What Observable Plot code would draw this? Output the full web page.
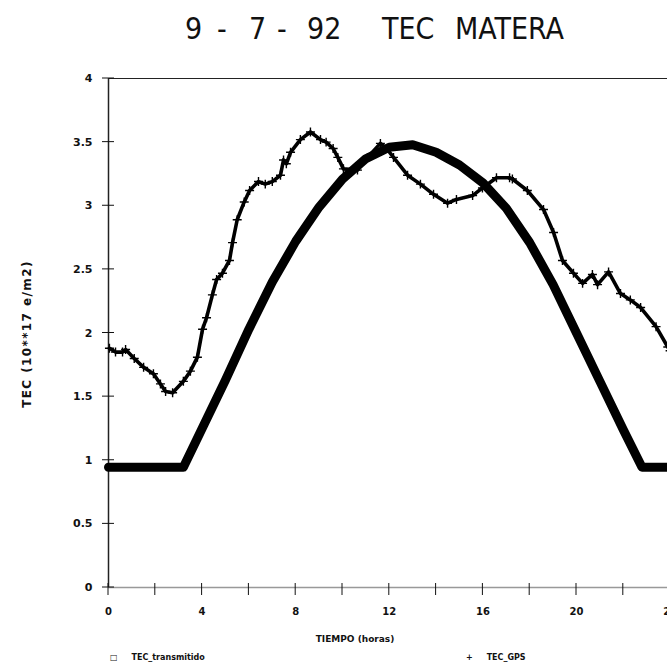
<!DOCTYPE html>
<html><head><meta charset="utf-8">
<script src="https://cdn.jsdelivr.net/npm/d3@7"></script>
<script src="https://cdn.jsdelivr.net/npm/@observablehq/plot@0.6"></script>
<style>
html,body{margin:0;padding:0;background:#fff;overflow:hidden;}
#wrap{position:relative;width:667px;height:669px;overflow:hidden;background:#fff;}
.tt{position:absolute;top:14px;font-family:"Liberation Sans Narrow","DejaVu Sans Condensed",sans-serif;font-size:30px;line-height:30px;color:#111;white-space:pre;}
#chart{position:absolute;left:0;top:60px;}
#chart svg{max-width:none !important;}
#xlabel{position:absolute;left:300px;top:634px;width:110px;text-align:center;font-family:"DejaVu Sans",sans-serif;font-size:9px;font-weight:bold;color:#111;white-space:pre;}
#ylabel{position:absolute;left:-53px;top:327px;width:160px;text-align:center;transform:rotate(-90deg);font-family:"DejaVu Sans",sans-serif;font-size:12px;font-weight:bold;letter-spacing:1.4px;color:#111;white-space:pre;line-height:14px;}
.leg{position:absolute;top:653px;font-family:"DejaVu Sans",sans-serif;font-size:8px;font-weight:bold;color:#111;white-space:pre;}
</style></head>
<body>
<div id="wrap">
  <span class="tt" style="left:185px">9</span>
  <span class="tt" style="left:217px">-</span>
  <span class="tt" style="left:249px">7</span>
  <span class="tt" style="left:277px">-</span>
  <span class="tt" style="left:307px">92</span>
  <span class="tt" style="left:382px">TEC</span>
  <span class="tt" style="left:455px">MATERA</span>
  <div id="chart"></div>
  <div id="ylabel">TEC (10**17 e/m2)</div>
  <div id="xlabel">TIEMPO (horas)</div>
  <div class="leg" style="left:110px">□     TEC_transmitido</div>
  <div class="leg" style="left:466px">+     TEC_GPS</div>
</div>
<script>
// TEC transmitido (thick curve)
const txHours  = [0, 3.2, 4, 5, 6, 7, 8, 9, 10, 11, 12, 13, 14, 15, 16, 17, 18, 19, 20, 21, 22, 22.8, 24];
const txValues = [0.945, 0.945, 1.25, 1.63, 2.03, 2.40, 2.72, 2.99, 3.21, 3.37, 3.46, 3.48, 3.42, 3.32, 3.18, 2.98, 2.71, 2.38, 2.00, 1.62, 1.24, 0.945, 0.945];

// TEC GPS (thin noisy curve)
const gpsHours  = [0.04, 0.3, 0.6, 0.73, 1.1, 1.5, 1.92, 2.22, 2.44, 2.74, 3.2, 3.5, 3.8, 4.02, 4.19, 4.44, 4.62, 4.87, 5.17, 5.3, 5.5, 5.8, 6.03, 6.41, 6.7, 7.0, 7.35, 7.48, 7.6, 7.78, 8.2, 8.63, 9.06, 9.3, 9.6, 9.8, 10.04, 10.64, 11.07, 11.62, 11.88, 12.18, 12.78, 13.33, 13.89, 14.49, 14.87, 15.56, 15.98, 16.58, 17.14, 17.26, 17.9, 18.59, 19.02, 19.4, 19.87, 20.26, 20.68, 20.9, 21.37, 21.88, 22.3, 22.74, 23.4, 23.9, 24.0];
const gpsValues = [1.88, 1.85, 1.85, 1.87, 1.80, 1.73, 1.68, 1.60, 1.54, 1.53, 1.62, 1.70, 1.81, 2.03, 2.12, 2.30, 2.42, 2.47, 2.57, 2.71, 2.89, 3.03, 3.12, 3.19, 3.17, 3.19, 3.24, 3.36, 3.33, 3.42, 3.52, 3.58, 3.52, 3.50, 3.45, 3.38, 3.29, 3.28, 3.38, 3.49, 3.45, 3.38, 3.24, 3.17, 3.09, 3.02, 3.05, 3.08, 3.14, 3.22, 3.22, 3.21, 3.12, 2.97, 2.79, 2.57, 2.47, 2.39, 2.46, 2.38, 2.48, 2.31, 2.26, 2.20, 2.05, 1.89, 1.86];

const yTicks = [0, 0.5, 1, 1.5, 2, 2.5, 3, 3.5, 4];
const xTicks = [0, 2, 4, 6, 8, 10, 12, 14, 16, 18, 20, 22, 24];
const xTickLabels = ["0", "", "4", "", "8", "", "12", "", "16", "", "20", "", "24"];

const tx = txHours.map((h, i) => ({h, v: txValues[i]}));
const gps = gpsHours.map((h, i) => ({h, v: gpsValues[i]}));

const chart = Plot.plot({
  width: 690,
  height: 567,
  marginLeft: 108,
  marginRight: 20.4,
  marginTop: 18,
  marginBottom: 40,
  style: {fontFamily: "DejaVu Sans, sans-serif", background: "#fff", color: "#111", maxWidth: "none"},
  x: {domain: [0, 24]},
  y: {domain: [0, 4]},
  marks: [
    Plot.ruleY([4], {stroke: "#222", strokeWidth: 1.2}),
    Plot.ruleY([0], {stroke: "#999", strokeWidth: 1.3}),
    Plot.ruleX([0], {stroke: "#222", strokeWidth: 1.5}),
    Plot.axisY({ticks: yTicks, tickFormat: d => String(d), tickSize: 12, tickPadding: 4,
      fontSize: 11, fontWeight: "bold", label: null}),
    Plot.axisX({ticks: xTicks, tickFormat: d => xTickLabels[xTicks.indexOf(d)], tickSize: 12, tickPadding: 8,
      fontSize: 10, fontWeight: "bold", label: null}),
    Plot.line(tx, {x: "h", y: "v", stroke: "#000", strokeWidth: 9, strokeLinejoin: "round"}),
    Plot.line(gps, {x: "h", y: "v", stroke: "#000", strokeWidth: 3.6, strokeLinejoin: "round"}),
    Plot.dot(gps, {x: "h", y: "v", symbol: "plus", r: 3, stroke: "#000", strokeWidth: 1.4})
  ]
});
// shift tick marks so they straddle the axis lines
const yt = chart.querySelector("g[aria-label='y-axis tick']");
if (yt) yt.setAttribute("transform", "translate(6,0)");
const xt = chart.querySelector("g[aria-label='x-axis tick']");
if (xt) xt.setAttribute("transform", "translate(0,-4)");
document.getElementById("chart").append(chart);
</script>
</body></html>
